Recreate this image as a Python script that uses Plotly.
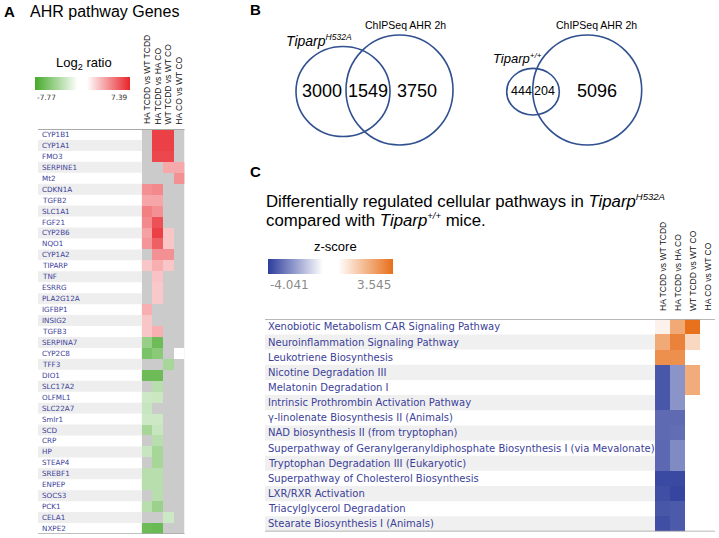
import plotly.graph_objects as go

W, H = 719, 538

def fx(p):
    return p / W

def fy(p):
    return 1 - p / H

# ---------------- DATA ----------------
comparisons = ["HA TCDD vs WT TCDD", "HA TCDD vs HA CO", "WT TCDD vs WT CO", "HA CO vs WT CO"]

genes_a = ["CYP1B1", "CYP1A1", "FMO3", "SERPINE1", "Mt2", "CDKN1A", "TGFB2", "SLC1A1", "FGF21",
           "CYP2B6", "NQO1", "CYP1A2", "TIPARP", "TNF", "ESRRG", "PLA2G12A", "IGFBP1", "INSIG2",
           "TGFB3", "SERPINA7", "CYP2C8", "TFF3", "DIO1", "SLC17A2", "OLFML1", "SLC22A7", "Smlr1",
           "SCD", "CRP", "HP", "STEAP4", "SREBF1", "ENPEP", "SOCS3", "PCK1", "CELA1", "NXPE2"]
n = None
log2_ha_tcdd_vs_wt_tcdd = [n, n, n, n, n, 4.0, 3.3, 4.5, 4.2, 3.5, 3.8, n, 2.3, n, n, n, 3.0, 2.3,
                           2.3, -4.8, -5.8, n, -6.3, n, -2.8, -3.0, -2.8, -4.2, n, -3.0, n, -3.6, -3.6,
                           n, -3.6, n, -6.3]
log2_ha_tcdd_vs_ha_co = [6.5, 6.5, 6.3, n, n, 4.2, 3.3, 4.0, 6.0, 6.5, 5.5, 4.0, 3.0, 2.4, 2.2, 2.2, n, n,
                         3.0, -6.3, -5.3, n, -6.3, -3.6, -2.9, n, -2.8, -3.0, -3.6, -4.2, -4.2, -3.6, -3.6,
                         -3.6, -4.6, n, -6.5]
log2_wt_tcdd_vs_wt_co = [6.5, 6.5, 6.3, 3.2, n, n, n, n, n, 2.3, 2.3, 4.0, 2.3, n, n, n, n, n,
                         n, n, n, -4.2, n, n, n, n, n, n, n, n, n, n, n, n, n, -2.8, n]
log2_ha_co_vs_wt_co = [n, n, n, 3.2, 4.0, n, n, n, n, n, n, n, n, n, n, n, n, n,
                       n, n, 0.0, n, n, n, n, n, n, n, n, n, n, n, n, n, n, n, n]
log2_min, log2_max = -7.77, 7.39

venn1_labels = ["<i>Tiparp<sup><span style='font-size:8.5px'>H532A</span></sup></i>", "ChIPSeq AHR 2h"]
venn1_counts = [3000, 1549, 3750]
venn2_labels = ["<i>Tiparp<sup><span style='font-size:8px'>+/+</span></sup></i>", "ChIPSeq AHR 2h"]
venn2_counts = [444, 204, 5096]

pathways = ["Xenobiotic Metabolism CAR Signaling Pathway", "Neuroinflammation Signaling Pathway",
            "Leukotriene Biosynthesis", "Nicotine Degradation III", "Melatonin Degradation I",
            "Intrinsic Prothrombin Activation Pathway", "γ-linolenate Biosynthesis II (Animals)",
            "NAD biosynthesis II (from tryptophan)",
            "Superpathway of Geranylgeranyldiphosphate Biosynthesis I (via Mevalonate)",
            "Tryptophan Degradation III (Eukaryotic)", "Superpathway of Cholesterol Biosynthesis",
            "LXR/RXR Activation", "Triacylglycerol Degradation", "Stearate Biosynthesis I (Animals)"]
z_ha_tcdd_vs_wt_tcdd = [0.5, 2.2, 2.8, -3.6, -3.6, -3.6, -3.27, -3.27, -3.3, -3.3, -3.84, -3.74, -3.59, -3.74]
z_ha_tcdd_vs_ha_co = [2.2, 3.1, 2.8, -2.55, -2.55, -2.55, -3.27, -3.2, -2.7, -2.7, -3.84, -3.9, -3.55, -3.55]
z_wt_tcdd_vs_wt_co = [3.5, 1.1, n, 2.15, 2.15, n, n, n, n, n, n, n, n, n]
z_ha_co_vs_wt_co = [n] * 14
z_min, z_max = -4.041, 3.545

title_c = ["Differentially regulated cellular pathways in <i>Tiparp<sup><span style='font-size:9.5px'>H532A</span></sup></i>",
           "compared with <i>Tiparp<sup><span style='font-size:9.5px'>+/+</span></sup></i> mice."]

# ---------------- STYLE ----------------
label_blue = "#3b4199"
venn_blue = "#30508f"
A_cells = dict(x0=141.7, x1=184.5, top=129, bottom=534)
C_cells = dict(x0=655, x1=715, top=319.3, bottom=531.5)

za = [list(r) for r in zip(log2_ha_tcdd_vs_wt_tcdd, log2_ha_tcdd_vs_ha_co,
                           log2_wt_tcdd_vs_wt_co, log2_ha_co_vs_wt_co)]
zc = [list(r) for r in zip(z_ha_tcdd_vs_wt_tcdd, z_ha_tcdd_vs_ha_co,
                           z_wt_tcdd_vs_wt_co, z_ha_co_vs_wt_co)]

fig = go.Figure()

fig.add_trace(go.Heatmap(
    z=za, x=list(range(4)), y=list(range(len(genes_a))),
    zmin=log2_min, zmax=log2_max,
    colorscale=[[0, "#46aa2a"], [0.45, "#ffffff"], [0.545, "#ffffff"], [1, "#e8242a"]],
    xaxis="x", yaxis="y", hoverongaps=False,
    colorbar=dict(orientation="h", x=fx(82.5), xanchor="center", y=fy(76.7), yanchor="top",
                  len=95, lenmode="pixels", thickness=12.6, thicknessmode="pixels",
                  showticklabels=False, ticks="", outlinewidth=0, xpad=0, ypad=0),
))

fig.add_trace(go.Heatmap(
    z=zc, x=list(range(4)), y=list(range(len(pathways))),
    zmin=z_min, zmax=z_max,
    colorscale=[[0, "#2d3d9b"], [0.44, "#ffffff"], [0.56, "#ffffff"], [1, "#e86f1a"]],
    xaxis="x2", yaxis="y2", hoverongaps=False,
    colorbar=dict(orientation="h", x=fx(330), xanchor="center", y=fy(259), yanchor="top",
                  len=124.6, lenmode="pixels", thickness=15, thicknessmode="pixels",
                  showticklabels=False, ticks="", outlinewidth=0, xpad=0, ypad=0),
))

shapes = []
annotations = []

# ----- Panel A -----
shapes.append(dict(type="rect", xref="x", yref="y", x0=-0.5, x1=3.5, y0=-0.5, y1=len(genes_a) - 0.5,
                   fillcolor="#cbcbcb", line=dict(width=0), layer="below"))
for i, g in enumerate(genes_a):
    if i % 2 == 1:
        shapes.append(dict(type="rect", xref="paper", yref="y", x0=fx(38), x1=fx(A_cells["x0"]),
                           y0=i - 0.5, y1=i + 0.5, fillcolor="#eeeeee", line=dict(width=0), layer="below"))
    annotations.append(dict(x=fx(39.5), y=i, xref="paper", yref="y", text=g, showarrow=False,
                            xanchor="left", yanchor="middle",
                            font=dict(family="DejaVu Sans", size=7.2, color=label_blue)))
shapes.append(dict(type="line", xref="paper", yref="y", x0=fx(38), x1=fx(A_cells["x1"]),
                   y0=-0.5, y1=-0.5, line=dict(color="#a8a8a8", width=2)))
shapes.append(dict(type="line", xref="paper", yref="y", x0=fx(38), x1=fx(A_cells["x1"]),
                   y0=len(genes_a) - 0.5, y1=len(genes_a) - 0.5, line=dict(color="#a8a8a8", width=1.5)))
for j, c in enumerate(comparisons):
    annotations.append(dict(x=j, y=fy(126.5), xref="x", yref="paper", text=c, showarrow=False,
                            textangle=-90, xanchor="center", yanchor="bottom",
                            font=dict(family="Arial", size=8.5, color="#111")))

annotations += [
    dict(x=fx(2), y=fy(11), xref="paper", yref="paper", text="<b>A</b>", showarrow=False,
         xanchor="left", yanchor="middle", font=dict(family="Arial", size=15, color="#000")),
    dict(x=fx(28), y=fy(12), xref="paper", yref="paper", text="AHR pathway Genes", showarrow=False,
         xanchor="left", yanchor="middle", font=dict(family="Arial", size=16, color="#000")),
    dict(x=fx(84), y=fy(64), xref="paper", yref="paper", text="Log<sub>2</sub> ratio", showarrow=False,
         xanchor="center", yanchor="middle", font=dict(family="Arial", size=13, color="#000")),
    dict(x=fx(34.5), y=fy(97.5), xref="paper", yref="paper", text=f"{log2_min:.2f}", showarrow=False,
         xanchor="left", yanchor="middle", font=dict(family="DejaVu Sans", size=7.3, color="#333")),
    dict(x=fx(130), y=fy(97.5), xref="paper", yref="paper", text=f"{log2_max:.2f}", showarrow=False,
         xanchor="right", yanchor="middle", font=dict(family="DejaVu Sans", size=7.3, color="#333")),
]

# ----- Panel B (Venn) -----
def ellipse(cx, cy, rx, ry):
    return dict(type="circle", xref="paper", yref="paper", x0=fx(cx - rx), x1=fx(cx + rx),
                y0=fy(cy + ry), y1=fy(cy - ry), line=dict(color=venn_blue, width=1.6),
                fillcolor="rgba(0,0,0,0)")

shapes += [ellipse(343, 91.5, 47, 45), ellipse(399.5, 90, 53.5, 55),
           ellipse(533, 91.7, 26.3, 23.3), ellipse(587.2, 90, 54.5, 55)]

def txt(x, y, s, size, anchor="center", color="#000"):
    return dict(x=fx(x), y=fy(y), xref="paper", yref="paper", text=s, showarrow=False,
                xanchor=anchor, yanchor="middle", font=dict(family="Arial", size=size, color=color))

annotations += [
    txt(248, 10, "<b>B</b>", 15, "left"),
    txt(405, 25, venn1_labels[1], 10.5),
    txt(284, 40, venn1_labels[0], 14, "left"),
    txt(321.7, 91, str(venn1_counts[0]), 18),
    txt(368, 91, str(venn1_counts[1]), 18),
    txt(416.7, 91, str(venn1_counts[2]), 18),
    txt(596, 25, venn2_labels[1], 10.5),
    txt(491, 58, venn2_labels[0], 13, "left"),
    txt(521, 91, str(venn2_counts[0]), 12.5),
    txt(544, 91, str(venn2_counts[1]), 12.5),
    txt(597, 91, str(venn2_counts[2]), 18),
]

# ----- Panel C -----
annotations += [
    txt(248, 172, "<b>C</b>", 15, "left"),
    txt(264, 200.5, title_c[0], 16.8, "left"),
    txt(264, 219.5, title_c[1], 16.8, "left"),
    txt(335, 246.5, "z-score", 13),
    dict(x=fx(267.5), y=fy(285), xref="paper", yref="paper", text=f"{z_min:.3f}", showarrow=False,
         xanchor="left", yanchor="middle", font=dict(family="DejaVu Sans", size=12, color="#8a8a8a")),
    dict(x=fx(392.5), y=fy(285), xref="paper", yref="paper", text=f"{z_max:.3f}", showarrow=False,
         xanchor="right", yanchor="middle", font=dict(family="DejaVu Sans", size=12, color="#8a8a8a")),
]
for i, p in enumerate(pathways):
    if i % 2 == 1:
        shapes.append(dict(type="rect", xref="paper", yref="y2", x0=fx(265), x1=fx(C_cells["x0"]),
                           y0=i - 0.5, y1=i + 0.5, fillcolor="#f0f0f0", line=dict(width=0), layer="below"))
    annotations.append(dict(x=fx(266), y=i, xref="paper", yref="y2", text=p, showarrow=False,
                            xanchor="left", yanchor="middle",
                            font=dict(family="DejaVu Sans", size=10, color=label_blue)))
shapes.append(dict(type="line", xref="paper", yref="y2", x0=fx(265), x1=fx(C_cells["x1"]),
                   y0=-0.5, y1=-0.5, line=dict(color="#a0a0a0", width=1.5)))
shapes.append(dict(type="line", xref="paper", yref="y2", x0=fx(265), x1=fx(C_cells["x1"]),
                   y0=len(pathways) - 0.5, y1=len(pathways) - 0.5, line=dict(color="#a0a0a0", width=1.5)))
for j, c in enumerate(comparisons):
    annotations.append(dict(x=j, y=fy(313), xref="x2", yref="paper", text=c, showarrow=False,
                            textangle=-90, xanchor="center", yanchor="bottom",
                            font=dict(family="Arial", size=8.5, color="#111")))

ax = dict(visible=False, showgrid=False, zeroline=False, fixedrange=True)
fig.update_layout(
    width=W, height=H, margin=dict(l=0, r=0, t=0, b=0, autoexpand=False),
    paper_bgcolor="white", plot_bgcolor="rgba(0,0,0,0)", template="none",
    xaxis=dict(ax, domain=[fx(A_cells["x0"]), fx(A_cells["x1"])], range=[-0.5, 3.5]),
    yaxis=dict(ax, domain=[fy(A_cells["bottom"]), fy(A_cells["top"])], range=[len(genes_a) - 0.5, -0.5]),
    xaxis2=dict(ax, domain=[fx(C_cells["x0"]), fx(C_cells["x1"])], range=[-0.5, 3.5], anchor="y2"),
    yaxis2=dict(ax, domain=[fy(C_cells["bottom"]), fy(C_cells["top"])], range=[len(pathways) - 0.5, -0.5],
                anchor="x2"),
    shapes=shapes, annotations=annotations, showlegend=False,
)

fig.write_html("out.html", config={"displayModeBar": False},
               post_script="document.body.style.margin='0px';document.body.style.overflow='hidden';")
